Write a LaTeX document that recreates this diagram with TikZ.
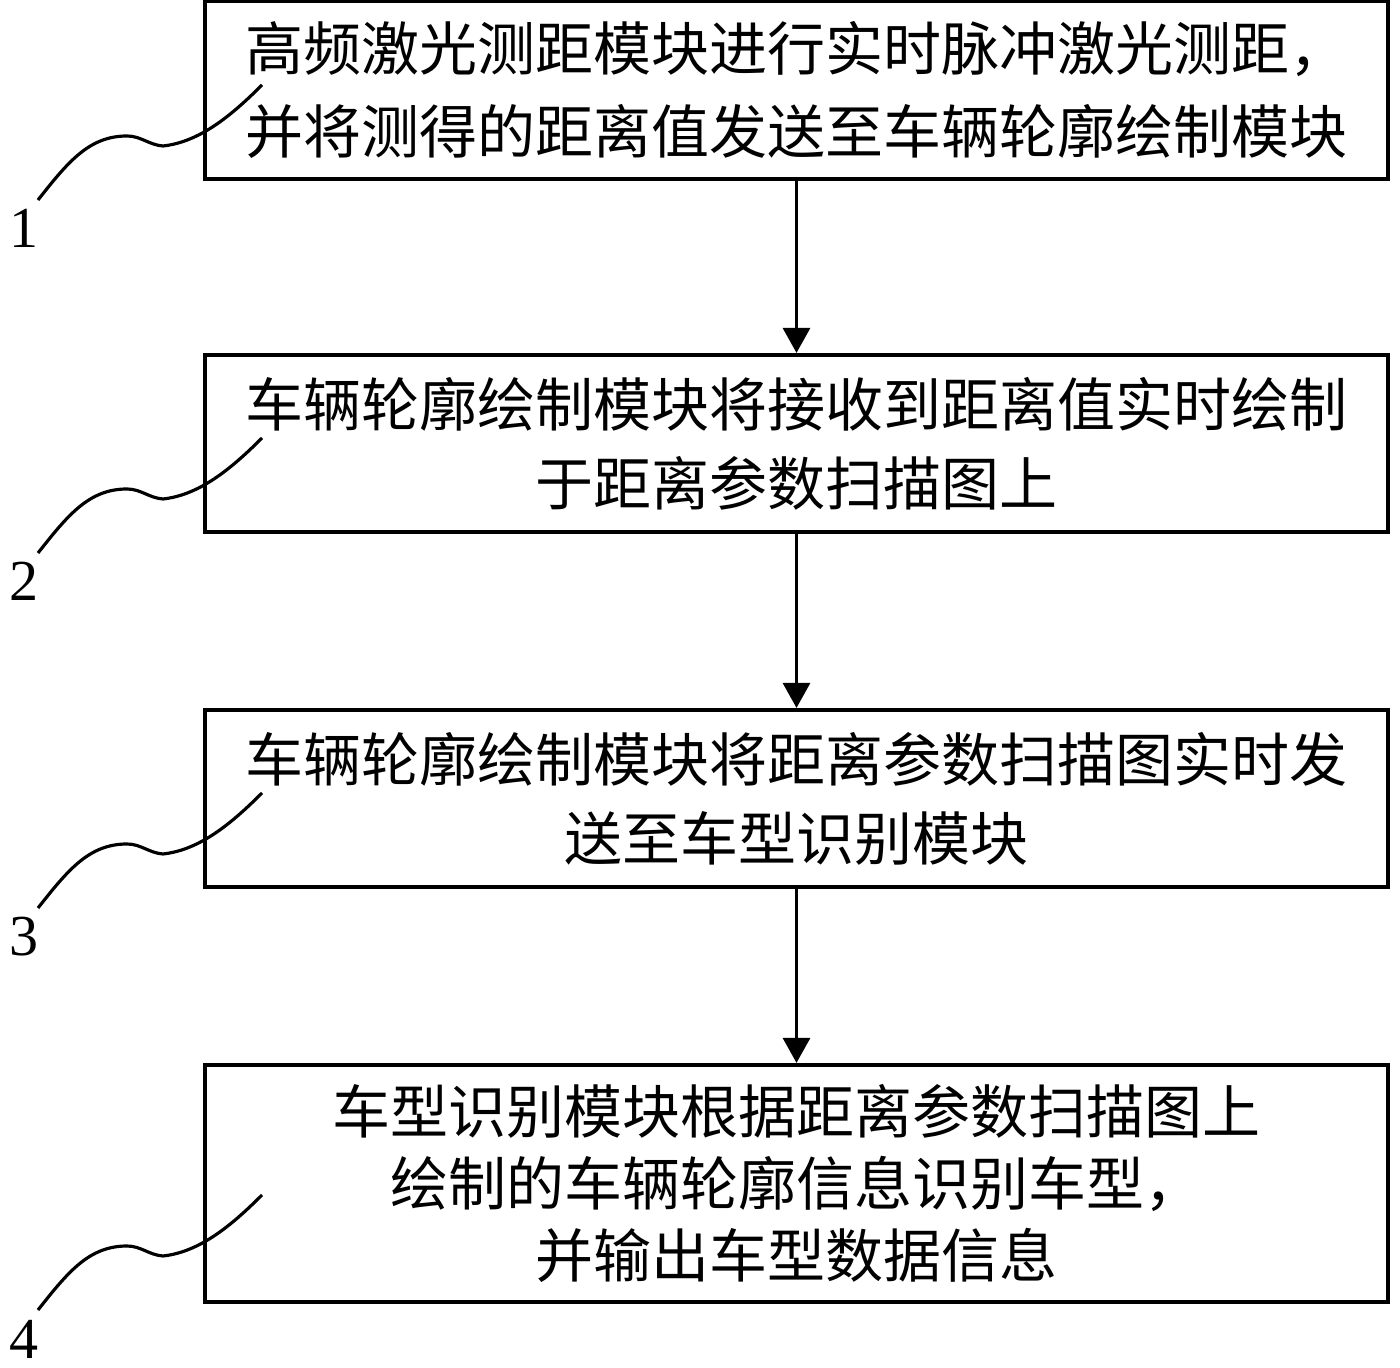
\documentclass[tikz,border=0pt]{standalone}
\usepackage{fontspec}
\newfontfamily\cjk{Noto Sans CJK SC}
\newfontfamily\numfont{Liberation Serif}
\usetikzlibrary{calc, positioning, arrows.meta}
\tikzset{
  % Set arrowhead
  >={Triangle[width=0.27cm, length=0.25cm]},
  % Step box
  stepbox/.style={draw, line width=1.15pt, minimum width=11.83cm,
    minimum height=1.77cm, inner sep=0pt, align=center,
    font=\cjk\fontsize{16.5}{22.5}\selectfont},
  % Flow arrow
  flow/.style={->, line width=0.9pt},
  % Leader line to a label
  leader/.style={line width=0.9pt},
  % Step number
  num/.style={inner sep=0pt, anchor=base, font=\numfont\fontsize{16.5}{16.5}\selectfont},
}

\begin{document}
\begin{tikzpicture}[x=0.01cm, y=-0.01cm]
  \useasboundingbox (0,0) rectangle (1400,1368);

  \node[stepbox, font=\cjk\fontsize{16.5}{23.5}\selectfont] (s1) at (796.5,90)
    {高频激光测距模块进行实时脉冲激光测距，\\并将测得的距离值发送至车辆轮廓绘制模块};
  \node[stepbox] (s2) at (796.5,443.5)
    {车辆轮廓绘制模块将接收到距离值实时绘制\\于距离参数扫描图上};
  \node[stepbox] (s3) at (796.5,798.5)
    {车辆轮廓绘制模块将距离参数扫描图实时发\\送至车型识别模块};
  \node[stepbox, minimum height=2.37cm, font=\cjk\fontsize{16.5}{20.5}\selectfont]
    (s4) at (796.5,1183.5)
    {车型识别模块根据距离参数扫描图上\\绘制的车辆轮廓信息识别车型，\\并输出车型数据信息};

  \draw[flow] (s1) -- (s2);
  \draw[flow] (s2) -- (s3);
  \draw[flow] (s3) -- (s4);

  % numbers with wavy leaders
  \foreach \i/\y in {1/85, 2/438, 3/793, 4/1195} {
    \coordinate (t\i) at (262,\y);
    \coordinate (b\i) at (38,\y+115);
    \node[num] (n\i) at (24,\y+163) {\i};
    \draw[leader] (b\i) .. controls +(30,-38) and +(-38,0) .. ++(89,-64)
      .. controls +(14,0) and +(-14,-1) .. ++(36,10)
      .. controls +(36,-4) and +(-32,32) .. (t\i);
  }
\end{tikzpicture}
\end{document}
